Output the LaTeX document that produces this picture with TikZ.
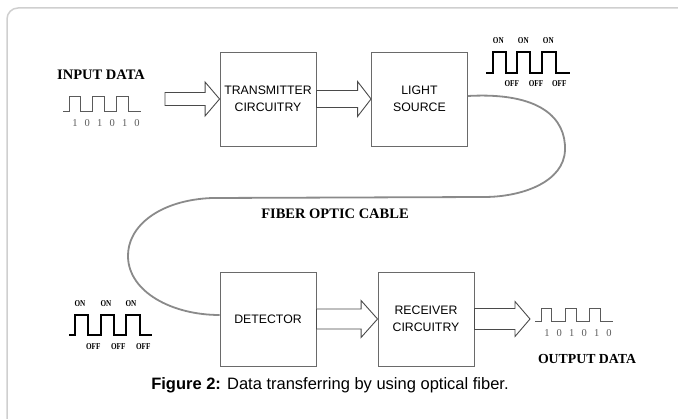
\documentclass[tikz,border=0pt]{standalone}
\usepackage{fontspec}
\setmainfont{Liberation Serif}
\newfontfamily\arial{Liberation Sans}
\newfontfamily\condserif[FakeStretch=0.8]{Liberation Serif}
\usetikzlibrary{calc}
\definecolor{boxgray}{HTML}{6A6A6A}
\definecolor{fibergray}{HTML}{8A8A8A}
\definecolor{framegray}{HTML}{CFCFCF}
\definecolor{wavegray}{HTML}{5A5A5A}
\definecolor{arrowgray}{HTML}{4A4A4A}
\newcommand\widespacing{\spaceskip 7.2pt\relax}
\tikzset{
  boxnode/.style={draw=boxgray, line width=0.9pt, minimum width=96pt, minimum height=94pt,
    inner sep=0pt, align=center, font=\arial\fontsize{12.3}{17.5}\selectfont},
  blockarrow/.style={draw=arrowgray, line width=0.9pt, fill=white, line join=miter},
  fiber/.style={draw=fibergray, line width=1.8pt},
  thinwave/.style={draw=wavegray, line width=0.8pt},
  thickwave/.style={draw=black, line width=2pt},
  onoff/.style={inner sep=0pt, font=\condserif\bfseries\fontsize{9}{10}\selectfont},
  bits/.style={inner sep=0pt, text=wavegray, font=\fontsize{10.5}{12}\selectfont\widespacing},
  title/.style={inner sep=0pt, font=\bfseries\fontsize{14.5}{16}\selectfont}
}
\newcommand\barrow[5]{%
  \draw[blockarrow] ($(#1)+(0,#3)$) -- ($(#2)+(-#5,#3)$) -- ($(#2)+(-#5,#4)$) -- (#2)
    -- ($(#2)+(-#5,-#4)$) -- ($(#2)+(-#5,-#3)$) -- ($(#1)+(0,-#3)$) -- cycle;}
\begin{document}
\begin{tikzpicture}[x=1pt,y=-1pt]
\useasboundingbox (0,0) rectangle (678,419);
\begin{scope}
\clip (0,0) rectangle (678,419);
\draw[framegray, line width=1.5pt, rounded corners=11pt] (7,8) rectangle (700,440);
\end{scope}

% boxes
\node[boxnode] (tx) at (268,99) {TRANSMITTER\\CIRCUITRY};
\node[boxnode] (ls) at (419.5,99) {LIGHT\\SOURCE};
\node[boxnode] (det) at (268,319) {DETECTOR};
\node[boxnode] (rec) at (426,319) {RECEIVER\\CIRCUITRY};

% free ends of the block arrows
\coordinate (inp) at (165,99);
\coordinate (outp) at (530,319);

% block arrows
\barrow{inp}{tx.west}{6.5}{17}{14.5}
\barrow{tx.east}{ls.west}{8.5}{17.5}{13.5}
\barrow{det.east}{rec.west}{10}{18.5}{16.5}
\barrow{rec.east}{outp}{10.5}{17.5}{15}

% fiber optic cable
\draw[fiber] ($(ls.east)+(0,-3)$) .. controls (540,92) and (566,118) .. (565,150)
  .. controls (564,182) and (522,197) .. (484,197)
  -- (212,198) .. controls (160,200) and (127,226) .. (128,257)
  .. controls (129,292) and (172,315) .. ($(det.west)+(0,-4)$);
\node[title] (fibertxt) at (335,214) {FIBER OPTIC CABLE};

% input data
\node[title] (intxt) at (101,75) {INPUT DATA};
\draw[thinwave] (63,111) -- (69.3,111) -- (69.3,96) -- (80.7,96) -- (80.7,111) -- (92.7,111)
  -- (92.7,96) -- (104.7,96) -- (104.7,111) -- (116.7,111) -- (116.7,96) -- (128.3,96)
  -- (128.3,111) -- (140.7,111);
\node[bits] (inbits) at (106,123) {1 0 1 0 1 0};

% output data
\draw[thinwave] (535,321.7) -- (541,321.7) -- (541,308.3) -- (551.7,308.3) -- (551.7,321.7)
  -- (565,321.7) -- (565,308.3) -- (576,308.3) -- (576,321.7) -- (589.3,321.7)
  -- (589.3,308.3) -- (600.7,308.3) -- (600.7,321.7) -- (613.3,321.7);
\node[bits] (outbits) at (578,333) {1 0 1 0 1 0};
\node[title, font=\bfseries\fontsize{13.8}{16}\selectfont] (outtxt) at (587,359) {OUTPUT DATA};

% light pulses after the source
\draw[thickwave] (486,72.7) -- (493.3,72.7) -- (493.3,51.7) -- (505.7,51.7) -- (505.7,72.7)
  -- (517.3,72.7) -- (517.3,51.7) -- (530,51.7) -- (530,72.7) -- (541.7,72.7)
  -- (541.7,51.7) -- (556,51.7) -- (556,72.7) -- (570,72.7);
\foreach \x [count=\i] in {498.3,523.3,548.3} \node[onoff] (lson\i) at (\x,41) {ON};
\foreach \x [count=\i] in {511.7,536,559.3} \node[onoff] (lsoff\i) at (\x,84) {OFF};

% light pulses before the detector
\draw[thickwave] (69,335) -- (75,335) -- (75,315) -- (87.7,315) -- (87.7,335) -- (101,335)
  -- (101,315) -- (114.3,315) -- (114.3,335) -- (125.7,335) -- (125.7,315) -- (140,315)
  -- (140,335) -- (152.3,335);
\foreach \x [count=\i] in {80,106,131} \node[onoff] (deton\i) at (\x,303.5) {ON};
\foreach \x [count=\i] in {93.3,118.3,143.3} \node[onoff] (detoff\i) at (\x,347) {OFF};

% caption
\node[inner sep=0pt, font=\arial\fontsize{16.5}{19}\selectfont] (cap) at (330,385)
  {\textbf{Figure 2:} Data transferring by using optical fiber.};
\end{tikzpicture}
\end{document}
